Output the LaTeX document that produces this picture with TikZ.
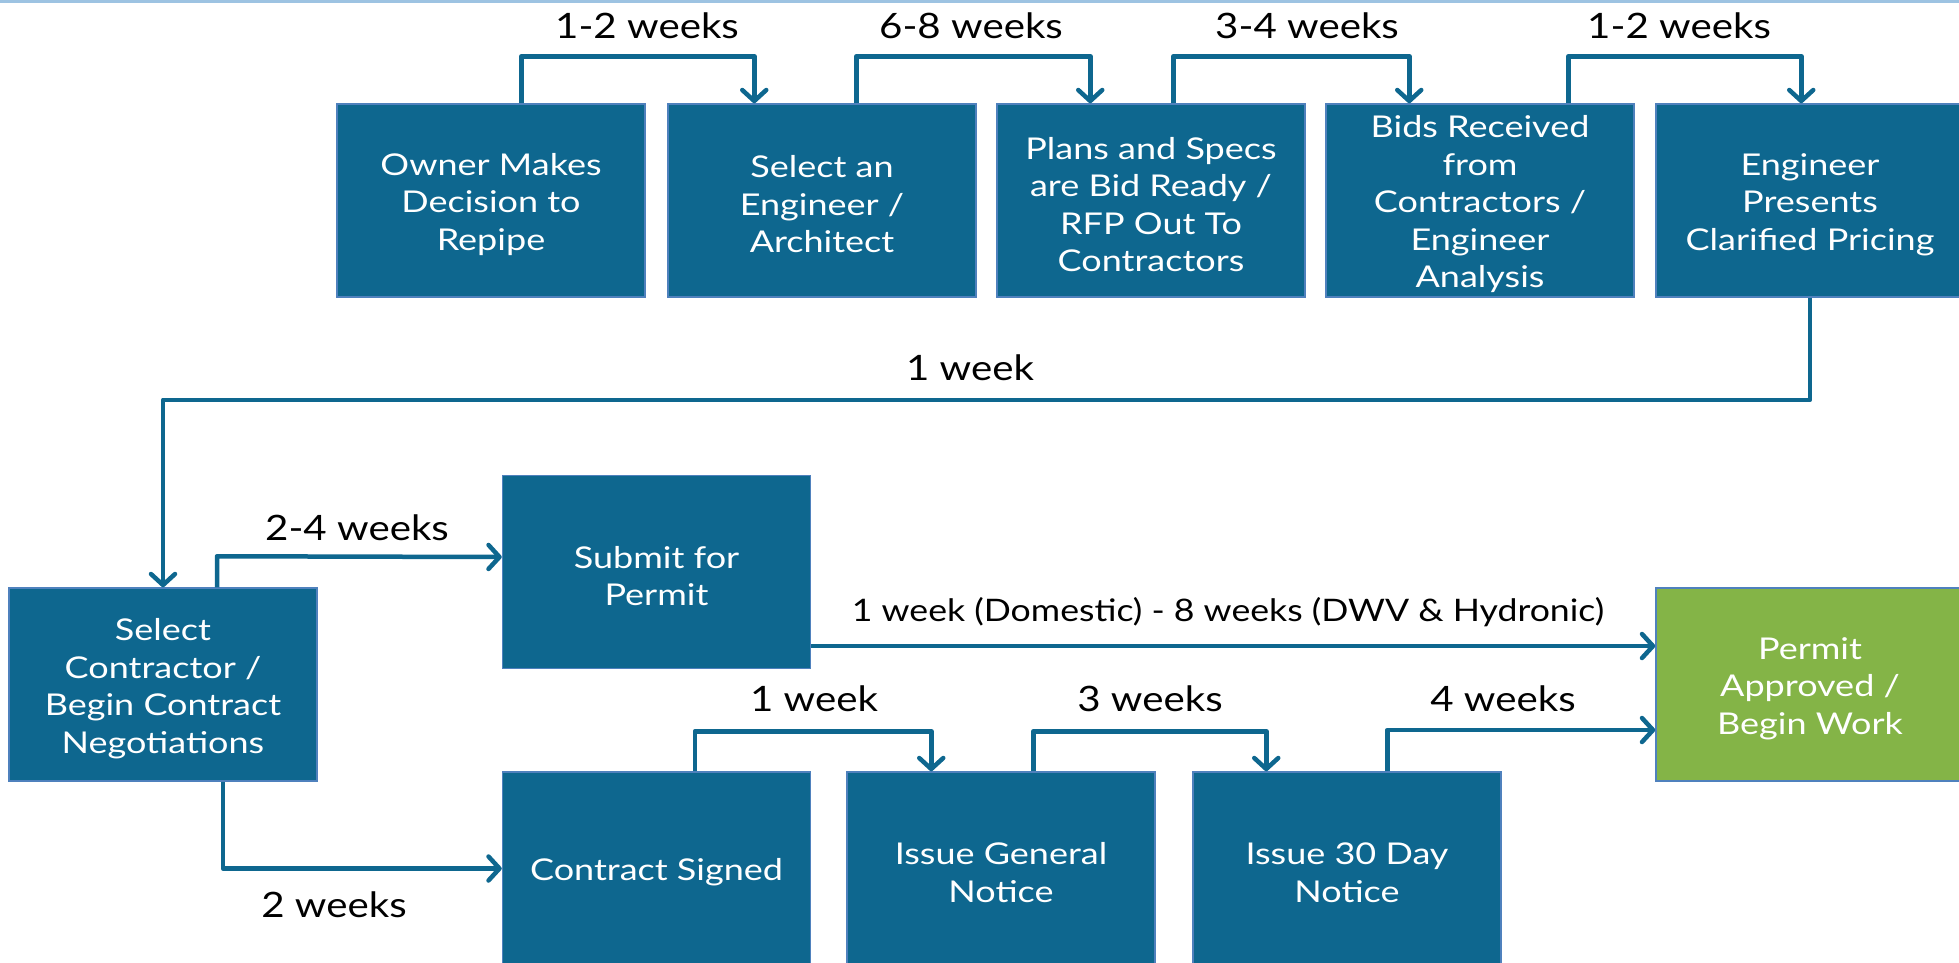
\documentclass[tikz,border=0pt]{standalone}
\usepackage{fontspec}
\setmainfont{Lato}[FakeStretch=1.15]
\newfontfamily\boxfont{Lato}[FakeStretch=1.2]
\usetikzlibrary{arrows.meta}
\newcommand\tstrut{\rule{0pt}{30pt}}
\definecolor{boxblue}{RGB}{14,103,143}
\definecolor{boxedge}{RGB}{79,129,189}
\definecolor{boxgreen}{RGB}{132,180,71}
\definecolor{topline}{RGB}{157,195,226}
\tikzset{
  stepbox/.style={draw=boxedge, line width=1.5pt, fill=boxblue, text=white,
    minimum width=308pt, minimum height=193pt, inner sep=0pt, align=center,
    font=\boxfont\fontsize{30}{37.5}\selectfont},
  greenbox/.style={stepbox, fill=boxgreen, draw=boxedge},
  conn/.style={draw=boxblue, line width=4.5pt, line join=round,
    -{Straight Barb[length=11pt,width=24pt,round]}},
  lbl/.style={anchor=base, font=\fontsize{35}{40}\selectfont, text=black, inner sep=0pt},
  lblsmall/.style={lbl, font=\fontsize{31}{36}\selectfont},
}
\begin{document}
\begin{tikzpicture}[x=1pt,y=-1pt]
\useasboundingbox (0,0) rectangle (1959,962);
\clip (0,0) rectangle (1959,962);
\fill[topline] (0,0) rectangle (1959,3);

% top row
\node[stepbox] (own) at (491,200.5) {\tstrut Owner Makes\\Decision to\\Repipe};
\node[stepbox] (sel) at (822,200.5) {\tstrut Select an\\Engineer /\\Architect};
\node[stepbox] (pla) at (1151,200.5) {\tstrut Plans and Specs\\are Bid Ready /\\RFP Out To\\Contractors};
\node[stepbox] (bid) at (1480,200.5) {\tstrut Bids Received\\from\\Contractors /\\Engineer\\Analysis};
\node[stepbox] (eng) at (1810,200.5) {\tstrut Engineer\\Presents\\Clarified Pricing};

% lower rows
\node[stepbox] (sc) at (163,684.5) {\tstrut Select\\Contractor /\\Begin Contract\\Negotiations};
\node[stepbox] (sub) at (656.5,572) {\tstrut Submit for\\Permit};
\node[stepbox] (con) at (656.5,868.5) {\tstrut Contract Signed};
\node[stepbox] (gen) at (1001,868.5) {\tstrut Issue General\\Notice};
\node[stepbox] (thi) at (1347,868.5) {\tstrut Issue 30 Day\\Notice};
\node[greenbox] (per) at (1810,684.5) {\tstrut Permit\\Approved /\\Begin Work};

% top connectors
\draw[conn] ([xshift=185pt]own.north west) -- ++(0,-47) -| ([xshift=87pt]sel.north west);
\draw[conn] ([xshift=189pt]sel.north west) -- ++(0,-47) -| ([xshift=94pt]pla.north west);
\draw[conn] ([xshift=177pt]pla.north west) -- ++(0,-47) -| ([xshift=84pt]bid.north west);
\draw[conn] ([xshift=243pt]bid.north west) -- ++(0,-47) -| ([xshift=146pt]eng.north west);
\node[lbl] (l1) at (647,38) {1-2 weeks};
\node[lbl] (l2) at (971,38) {6-8 weeks};
\node[lbl] (l3) at (1307,38) {3-4 weeks};
\node[lbl] (l4) at (1679,38) {1-2 weeks};

% engineer -> select contractor
\draw[conn] (eng.south) -- ++(0,102) -| (sc.north);
\node[lbl] (l5) at (970,380) {1 week};

% select contractor -> submit / contract
\draw[conn] ([xshift=54pt]sc.north) -- ++(0,-31) -- ([yshift=15pt]sub.west);
\node[lbl] (l6) at (357,540) {2-4 weeks};
\draw[conn] ([xshift=60pt]sc.south) |- (con.west);
\node[lbl] (l7) at (334,917) {2 weeks};

% submit -> permit
\draw[conn] ([yshift=-74pt]sub.east) -- ([yshift=-74pt]sub.east -| per.west);
\node[lblsmall] (l8) at (1228,621) {1 week (Domestic) - 8 weeks (DWV \& Hydronic)};

% bottom row connectors
\draw[conn] ([xshift=193pt]con.north west) -- ++(0,-40) -| ([xshift=85pt]gen.north west);
\draw[conn] ([xshift=187pt]gen.north west) -- ++(0,-40) -| ([xshift=74pt]thi.north west);
\draw[conn] ([xshift=195pt]thi.north west) |- ([yshift=-45.5pt]per.west);
\node[lbl] (l9) at (814,711) {1 week};
\node[lbl] (l10) at (1150,711) {3 weeks};
\node[lbl] (l11) at (1503,711) {4 weeks};
\end{tikzpicture}
\end{document}
